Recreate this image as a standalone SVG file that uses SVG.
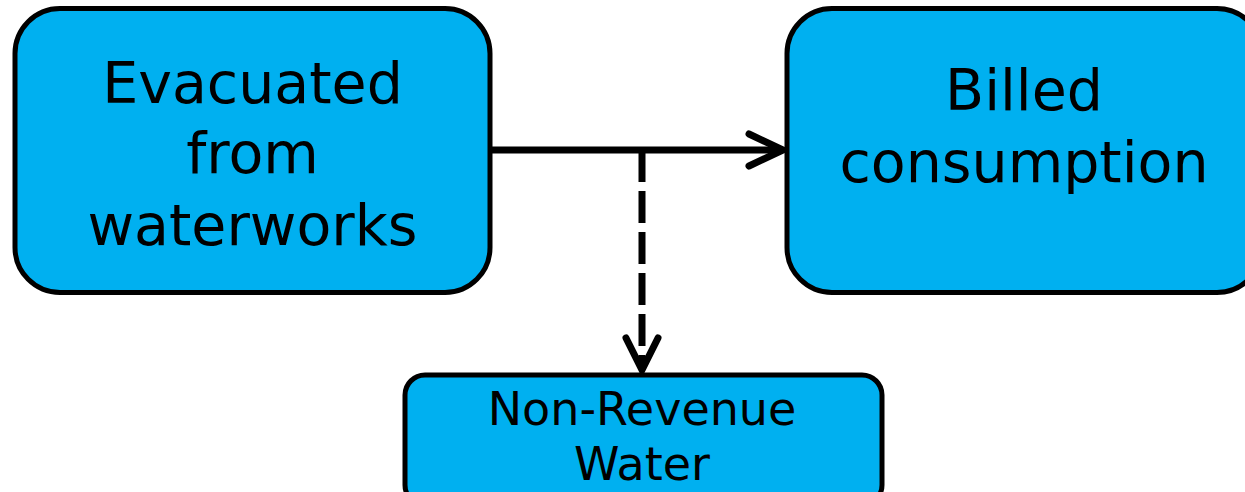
<svg xmlns="http://www.w3.org/2000/svg" width="1245" height="492" viewBox="0 0 1245 492">
<style>
.box{fill:#00B0F0;stroke:#000;stroke-width:5}
.lbl{font-family:"DejaVu Sans",Verdana,sans-serif;fill:#000;text-anchor:middle}
.con{fill:none;stroke:#000;stroke-width:7}
.head{fill:none;stroke:#000;stroke-width:7;stroke-linecap:round;stroke-linejoin:miter}
</style>
<rect width="1245" height="492" fill="#fff"/>
<g id="connectors">
<line class="con" x1="492" y1="150" x2="782" y2="150"/>
<polyline class="head" points="749,134 783,150 749,166"/>
<line class="con" x1="642" y1="150" x2="642" y2="366" stroke-dasharray="32,9"/>
<polyline class="head" points="626,338 642,370 658,338"/>
</g>
<g id="node-evacuated">
<rect class="box" x="15" y="8.5" width="475" height="284" rx="45"/>
<text class="lbl" font-size="57" x="252.5" y="103">Evacuated</text>
<text class="lbl" font-size="57" x="252.5" y="173">from</text>
<text class="lbl" font-size="57" x="252.5" y="245">waterworks</text>
</g>
<g id="node-billed">
<rect class="box" x="787" y="8.5" width="475" height="284" rx="45"/>
<text class="lbl" font-size="57" x="1024" y="110">Billed</text>
<text class="lbl" font-size="57" x="1024" y="182">consumption</text>
</g>
<g id="node-nrw">
<rect class="box" x="405" y="375" width="477" height="130" rx="20"/>
<text class="lbl" font-size="46" x="642" y="425">Non-Revenue</text>
<text class="lbl" font-size="46" x="642" y="480">Water</text>
</g>
</svg>
